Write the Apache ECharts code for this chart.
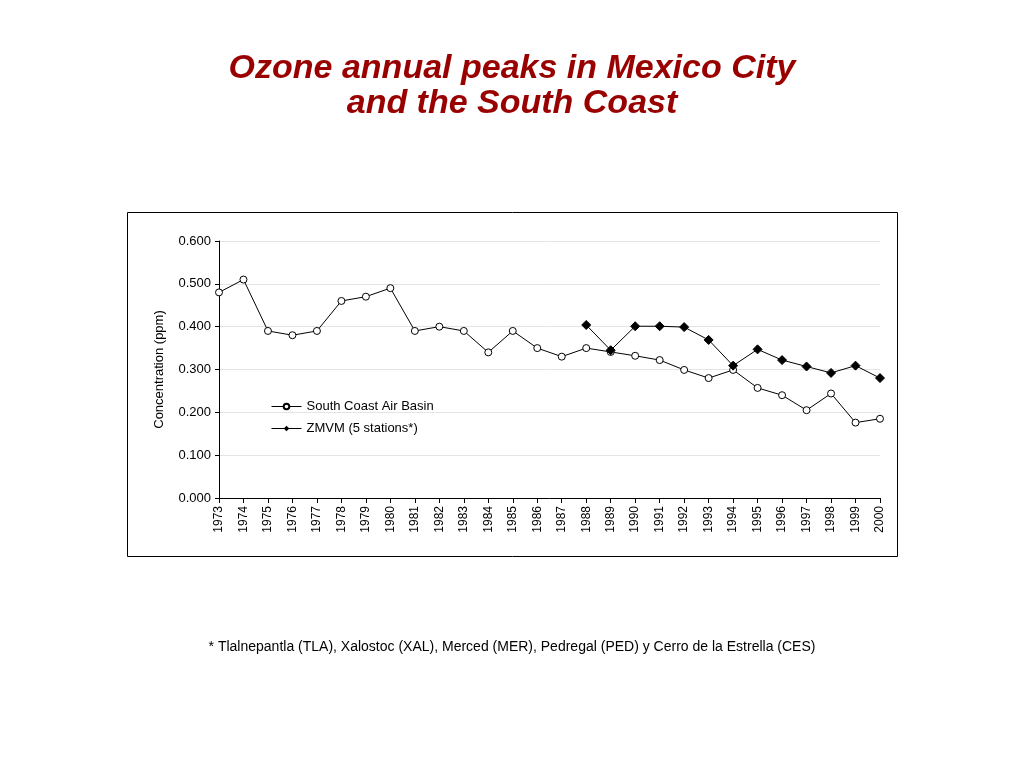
<!DOCTYPE html>
<html><head><meta charset="utf-8">
<script src="https://cdn.jsdelivr.net/npm/echarts@6/dist/echarts.min.js"></script>
<style>html,body{margin:0;padding:0;background:#fff}#c{width:1024px;height:768px}</style>
</head><body><div id="c"></div>
<script>
var years = ['1973','1974','1975','1976','1977','1978','1979','1980','1981','1982','1983','1984','1985','1986','1987','1988','1989','1990','1991','1992','1993','1994','1995','1996','1997','1998','1999','2000'];
var southCoast = [0.480,0.510,0.390,0.380,0.390,0.460,0.470,0.490,0.390,0.400,0.390,0.340,0.390,0.350,0.330,0.350,0.341,0.332,0.322,0.299,0.280,0.299,0.257,0.240,0.205,0.244,0.176,0.185];
var zmvm = [null,null,null,null,null,null,null,null,null,null,null,null,null,null,null,0.404,0.345,0.401,0.401,0.399,0.369,0.309,0.347,0.322,0.307,0.292,0.309,0.280];
var yTicks = ['0.000','0.100','0.200','0.300','0.400','0.500','0.600'];

var chart = echarts.init(document.getElementById('c'));
var font = 'Liberation Sans, Arial, sans-serif';
chart.setOption({
  animation: false,
  backgroundColor: '#fff',
  textStyle: {fontFamily: font},
  graphic: [
    {type:'rect', shape:{x:127.5,y:212.5,width:770,height:344}, style:{fill:'none',stroke:'#000',lineWidth:1}, z:-1},
    {type:'text', left:'center', top:51, style:{text:'Ozone annual peaks in Mexico City\nand the South Coast', fill:'#990000', font:'italic bold 34px ' + font, textAlign:'center', lineHeight:35}},
    {type:'text', left:'center', top:640, style:{text:'* Tlalnepantla (TLA), Xalostoc (XAL), Merced (MER), Pedregal (PED) y Cerro de la Estrella (CES)', fill:'#000', font:'14px ' + font}}
  ],
  legend: {
    orient:'vertical', left:266, top:395, itemGap:9, itemWidth:30, itemHeight:7,
    textStyle:{fontSize:13, color:'#000', fontFamily:font},
    lineStyle:{width:1},
    data:['South Coast Air Basin','ZMVM (5 stations*)']
  },
  grid: {left:219, right:144, top:241, bottom:270},
  xAxis: {
    type:'category', data:years, boundaryGap:false,
    axisLine:{lineStyle:{color:'#000'}},
    axisTick:{show:true, alignWithLabel:true, length:5, lineStyle:{color:'#000'}},
    axisLabel:{rotate:90, fontSize:12, color:'#000', margin:8, interval:0, fontFamily:font}
  },
  yAxis: {
    type:'value', min:0, max:0.6, interval:0.1,
    name:'Concentration (ppm)', nameLocation:'middle', nameGap:53, nameRotate:90,
    nameTextStyle:{fontSize:13, color:'#000', fontFamily:font},
    axisLine:{show:true, lineStyle:{color:'#000'}},
    axisTick:{show:true, length:4, lineStyle:{color:'#000'}},
    axisLabel:{fontSize:13, color:'#000', fontFamily:font, formatter:function(v){return yTicks[Math.round(v*10)];}},
    splitLine:{lineStyle:{color:'#e4e4e4'}}
  },
  series: [
    {name:'South Coast Air Basin', type:'line', data:southCoast, symbol:'circle', symbolSize:7,
     lineStyle:{color:'#000', width:1}, itemStyle:{color:'#fff', borderColor:'#000', borderWidth:1}, z:3},
    {name:'ZMVM (5 stations*)', type:'line', data:zmvm, symbol:'diamond', symbolSize:9, connectNulls:false,
     lineStyle:{color:'#000', width:1}, itemStyle:{color:'#000', borderColor:'#000'}, z:4}
  ]
});
</script></body></html>
